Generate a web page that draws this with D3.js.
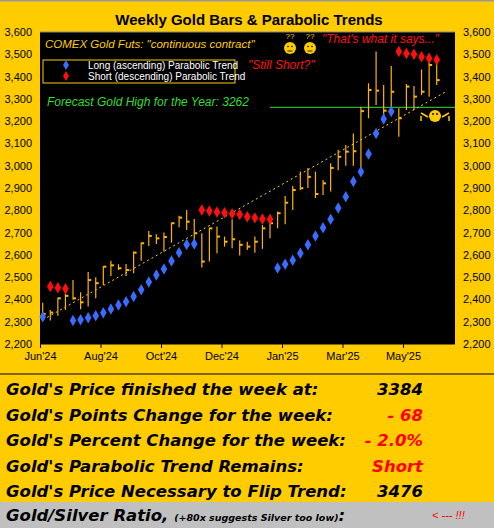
<!DOCTYPE html>
<html><head><meta charset="utf-8">
<script src="https://cdn.jsdelivr.net/npm/d3@7"></script>
<style>body{margin:0;background:#FFCC00;}svg{display:block;}</style>
</head><body><svg id="c" width="494" height="528"></svg>
<script>
// weekly bars, Jun'24 .. Jun'25
const highs = [2385,2353,2408,2425,2487,2432,2523,2500,2550,2573,2558,2559,2615,2655,2707,2692,2700,2745,2775,2801,2761,2697,2722,2727,2682,2760,2664,2659,2682,2734,2764,2794,2864,2909,2974,2990,2974,2936,3011,3072,3093,3145,3265,3370,3512,3362,3447,3258,3367,3358,3432,3467,3475];
const lows = [2310,2305,2327,2353,2398,2356,2368,2405,2465,2505,2532,2505,2517,2574,2640,2649,2615,2655,2724,2712,2667,2543,2570,2607,2637,2630,2597,2622,2610,2627,2674,2719,2737,2801,2891,2900,2855,2869,2884,2980,3000,3000,2970,3213,3272,3228,3243,3130,3250,3250,3317,3310,3362];
const closes = [2335,2341,2405,2416,2405,2387,2487,2473,2547,2553,2540,2532,2610,2652,2685,2674,2680,2742,2767,2749,2697,2570,2719,2682,2659,2670,2645,2637,2659,2719,2742,2787,2834,2891,2899,2950,2873,2921,2990,3040,3063,3065,3245,3340,3337,3247,3332,3213,3355,3310,3332,3452,3384];
const sar = [2322,2458,2452,2448,2305,2309,2318,2327,2340,2357,2375,2390,2413,2443,2478,2510,2537,2572,2610,2646,2649,2801,2797,2792,2789,2785,2781,2771,2766,2761,2760,2541,2558,2576,2607,2645,2685,2722,2760,2810,2861,2929,2973,3053,3145,3210,3243,3512,3504,3500,3489,3482,3475];
const sarShort = [0,1,1,1,0,0,0,0,0,0,0,0,0,0,0,0,0,0,0,0,0,1,1,1,1,1,1,1,1,1,1,0,0,0,0,0,0,0,0,0,0,0,0,0,0,0,0,1,1,1,1,1,1];
const monthLabels = ["Jun'24","Aug'24","Oct'24","Dec'24","Jan'25","Mar'25","May'25"];
const yTicks = [2200,2300,2400,2500,2600,2700,2800,2900,3000,3100,3200,3300,3400,3500,3600];
const trendEnds = [[0,2308],[53.2,3332]];
const forecastHigh = 3262;
const stats = [
  ["Gold's Price finished the week at:", "3384", "#000"],
  ["Gold's Points Change for the week:", "- 68", "#f00"],
  ["Gold's Percent Change for the week:", "- 2.0%", "#f00"],
  ["Gold's Parabolic Trend Remains:", "Short", "#f00"],
  ["Gold's Price Necessary to Flip Trend:", "3476", "#000"]
];

const svg = d3.select("#c");
const L = 40, R = 455, T = 32, B = 344;
const x = d3.scaleLinear().domain([0, highs.length - 1]).range([42.7, 436.7]);
const y = d3.scaleLinear().domain([2200, 3600]).range([B, T]);
const xm = d3.scalePoint().domain(monthLabels).range([L, L + 6 * 60.5]);

svg.append("rect").attr("width", 494).attr("height", 528).attr("fill", "#FFCC00");
svg.append("rect").attr("width", 494).attr("height", 1.5).attr("fill", "#999");
svg.append("rect").attr("x", L).attr("y", T).attr("width", R - L).attr("height", B - T).attr("fill", "#000");
svg.append("line").attr("x1", L).attr("x2", R).attr("y1", T).attr("y2", T).attr("stroke", "#888");

svg.append("text").attr("x", 249).attr("y", 25).attr("text-anchor", "middle")
  .attr("font-family", "Liberation Sans, Arial").attr("font-weight", "bold").attr("font-size", 15)
  .text("Weekly Gold Bars & Parabolic Trends");

// axes
const axFont = g => g.selectAll("text").attr("font-family", "Liberation Sans, Arial").attr("font-size", 11).attr("fill", "#000");
svg.append("g").attr("transform", `translate(${L},0)`)
  .call(d3.axisLeft(y).tickValues(yTicks).tickSize(0).tickPadding(8)).call(axFont)
  .call(g => g.select(".domain").remove());
svg.append("g").attr("transform", `translate(${R},0)`)
  .call(d3.axisRight(y).tickValues(yTicks).tickSize(0).tickPadding(8)).call(axFont)
  .call(g => g.select(".domain").remove());
svg.append("g").attr("transform", `translate(0,${B})`)
  .call(d3.axisBottom(xm).tickSize(4).tickPadding(4)).call(axFont)
  .call(g => g.select(".domain").remove())
  .call(g => g.selectAll("line").attr("stroke", "#000"));
svg.append("line").attr("x1", L).attr("x2", R).attr("y1", B).attr("y2", B).attr("stroke", "#000");

// forecast line
svg.append("line").attr("x1", 270).attr("x2", R).attr("y1", y(forecastHigh)).attr("y2", y(forecastHigh))
  .attr("stroke", "#33dd33").attr("stroke-width", 1);

// trend line
svg.append("line").attr("x1", x(trendEnds[0][0])).attr("y1", y(trendEnds[0][1]))
  .attr("x2", x(trendEnds[1][0])).attr("y2", y(trendEnds[1][1]))
  .attr("stroke", "#FFD21F").attr("stroke-dasharray", "2,3");

// bars
const bars = svg.append("g").attr("stroke", "#FFB400").attr("stroke-width", 1.2);
highs.forEach((h, i) => {
  bars.append("line").attr("x1", x(i)).attr("x2", x(i)).attr("y1", y(h)).attr("y2", y(lows[i]));
  bars.append("line").attr("x1", x(i)).attr("x2", x(i) + 3).attr("y1", y(closes[i])).attr("y2", y(closes[i])).attr("stroke-width", 2);
});

// parabolic dots
svg.append("g").selectAll("path").data(sar).join("path")
  .attr("d", d3.symbol(d3.symbolDiamond, 38))
  .attr("transform", (d, i) => `translate(${x(i)},${y(d)}) rotate(0)`)
  .attr("fill", (d, i) => sarShort[i] ? "#ff1010" : "#3a6cff");

// legend
const lg = svg.append("g").attr("font-family", "Liberation Sans, Arial").attr("font-size", 10).attr("fill", "#fff");
lg.append("rect").attr("x", 43).attr("y", 60).attr("width", 192).attr("height", 23).attr("fill", "none").attr("stroke", "#FFCC00");
[["Long (ascending) Parabolic Trend", "#3a6cff", 65], ["Short (descending) Parabolic Trend", "#ff1010", 76]].forEach(([t, c, yy]) => {
  lg.append("path").attr("d", d3.symbol(d3.symbolDiamond, 30)).attr("transform", `translate(66,${yy})`).attr("fill", c);
  lg.append("text").attr("x", 88).attr("y", yy + 3.5).attr("fill", "#fff").text(t);
});

const it = (t, xx, yy, c, s) => svg.append("text").attr("x", xx).attr("y", yy).attr("fill", c)
  .attr("font-family", "Liberation Sans, Arial").attr("font-style", "italic").attr("font-size", s).text(t);
it("COMEX Gold Futs:  \"continuous contract\"", 45, 48, "#FFCC00", 11.5);
it("Forecast Gold High for the Year:  3262", 47, 106, "#33dd33", 12);
it("\"That's what it says...\"", 322, 43, "#ff1010", 12);
it("\"Still Short?\"", 248, 69, "#ff1010", 12);

// faces
[290, 310].forEach(cx => {
  svg.append("circle").attr("cx", cx).attr("cy", 48).attr("r", 6).attr("fill", "#FFCC00");
  svg.append("circle").attr("cx", cx - 2).attr("cy", 46.5).attr("r", 0.8).attr("fill", "#000");
  svg.append("circle").attr("cx", cx + 2).attr("cy", 46.5).attr("r", 0.8).attr("fill", "#000");
  svg.append("line").attr("x1", cx - 2.5).attr("x2", cx + 2.5).attr("y1", 51).attr("y2", 51).attr("stroke", "#000").attr("stroke-width", 0.8);
  svg.append("text").attr("x", cx).attr("y", 39).attr("text-anchor", "middle").attr("fill", "#FFCC00")
    .attr("font-family", "Liberation Sans, Arial").attr("font-size", 8).text("??");
});
// little waving figure
svg.append("circle").attr("cx", 435).attr("cy", 116).attr("r", 6).attr("fill", "#FFCC00");
svg.append("path").attr("d", "M421,113 L428,117 M449,113 L442,117 M421,116 L421,121 M449,116 L449,121")
  .attr("stroke", "#FFCC00").attr("stroke-width", 1.5).attr("fill", "none");
svg.append("circle").attr("cx", 433).attr("cy", 114).attr("r", 0.9).attr("fill", "#000");
svg.append("circle").attr("cx", 437).attr("cy", 114).attr("r", 0.9).attr("fill", "#000");

// stats
svg.append("line").attr("x1", 0).attr("x2", 494).attr("y1", 374).attr("y2", 374).attr("stroke", "#000").attr("stroke-width", 1.2);
const st = svg.append("g").attr("font-family", "DejaVu Sans, Verdana").attr("font-weight", "bold").attr("font-style", "italic").attr("font-size", 16.5);
stats.forEach(([lab, val, c], i) => {
  const yy = 395 + i * 25.5;
  st.append("text").attr("x", 6).attr("y", yy).attr("fill", "#000").text(lab);
  st.append("text").attr("x", 423).attr("y", yy).attr("text-anchor", "end").attr("fill", c).text(val);
});
svg.append("rect").attr("x", 0).attr("y", 502).attr("width", 494).attr("height", 26).attr("fill", "#C0C0C0");
const gr = svg.append("text").attr("x", 6).attr("y", 521).attr("font-family", "DejaVu Sans, Verdana").attr("font-weight", "bold").attr("font-style", "italic").attr("fill", "#000");
gr.append("tspan").attr("font-size", 16.5).text("Gold/Silver Ratio, ");
gr.append("tspan").attr("font-size", 9.5).text("(+80x suggests Silver too low)");
gr.append("tspan").attr("font-size", 16.5).text(":");
st.append("text").attr("x", 423).attr("y", 521).attr("text-anchor", "end").attr("font-size", 18).attr("fill", "#000").text("94.1x");
svg.append("text").attr("x", 432).attr("y", 519).attr("font-family", "Liberation Sans, Arial").attr("font-style", "italic").attr("font-size", 11).attr("fill", "#f00").text("< --- !!!");
</script></body></html>
